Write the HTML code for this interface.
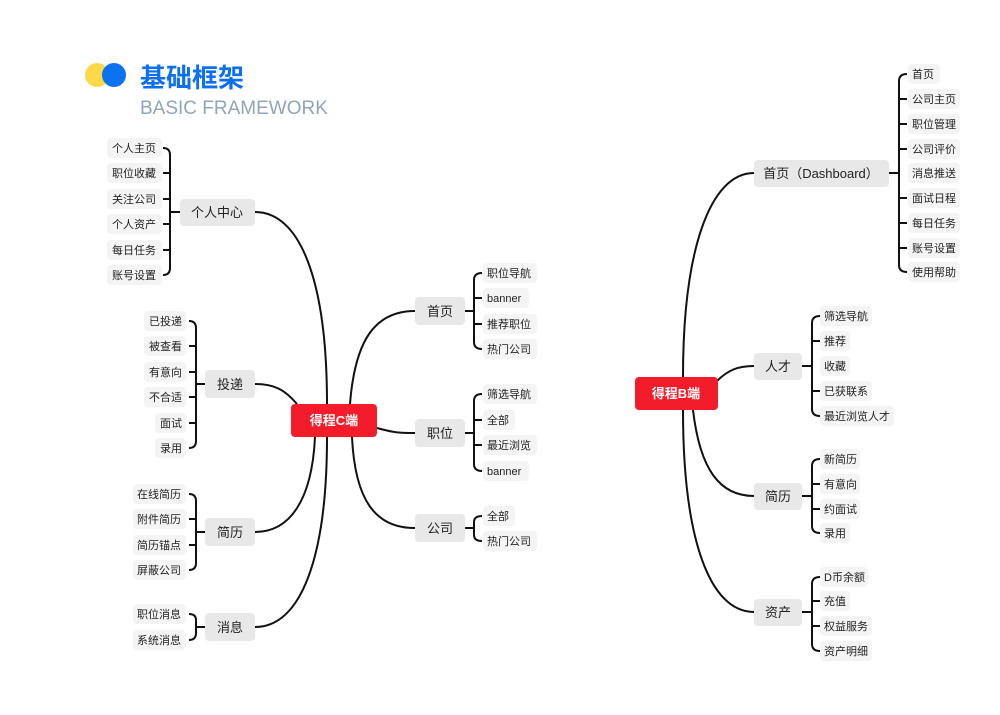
<!DOCTYPE html>
<html><head><meta charset="utf-8"><style>
html,body{margin:0;padding:0;background:#fff;}
svg{display:block;font-family:"Liberation Sans","Noto Sans CJK SC",sans-serif;}
.l rect{fill:#f4f4f4;}
.l text{font-size:11px;fill:#222;}
.b rect{fill:#e8e8e8;}
.b text{font-size:13px;fill:#222;}
path{fill:none;stroke:#111;stroke-width:2;}
</style></head><body>
<svg width="1000" height="715" viewBox="0 0 1000 715">
<circle cx="97" cy="75" r="12" fill="#ffd84a"/>
<circle cx="114" cy="75" r="12" fill="#0b72f0"/>
<text x="140" y="87" font-size="26" font-weight="bold" fill="#0b6ff0" style="font-family:'Noto Sans CJK SC',sans-serif">基础框架</text>
<text x="140" y="114" font-size="19" fill="#8fa6b6">BASIC FRAMEWORK</text>

<!-- C root connectors -->
<path d="M327,404 C327,280 300,212 255,212"/>
<path d="M297,404 C285,390 275,384 255,384"/>
<path d="M315,437 C312,500 290,532 255,532"/>
<path d="M327,437 C327,560 300,627 255,627"/>
<path d="M350,404 C355,340 375,311 415,311"/>
<path d="M377,428 C395,433 400,433 415,433"/>
<path d="M352,437 C355,500 375,528 415,528"/>

<!-- B root connectors -->
<path d="M683,377 C683,250 710,173 754,173"/>
<path d="M717,381 C728,370 738,366 754,366"/>
<path d="M693,410 C700,470 720,496 754,496"/>
<path d="M683,410 C683,540 710,612 754,612"/>

<!-- brackets -->
<path d="M180,212 H170 M163,148 Q170,148 170,155 V268 Q170,275 163,275 M163,173 H170 M163,199 H170 M163,224 H170 M163,250 H170"/>
<path d="M205,384 H196 M189,321 Q196,321 196,328 V441 Q196,448 189,448 M189,346 H196 M189,372 H196 M189,397 H196 M189,423 H196"/>
<path d="M205,532 H196 M189,494 Q196,494 196,501 V563 Q196,570 189,570 M189,519 H196 M189,545 H196"/>
<path d="M205,627 H196 M189,614 Q196,614 196,620 V633 Q196,640 189,640"/>
<path d="M465,311 H474 M482,273 Q474,273 474,280 V342 Q474,349 482,349 M482,298 H474 M482,324 H474"/>
<path d="M465,433 H474 M482,394 Q474,394 474,401 V464 Q474,471 482,471 M482,420 H474 M482,445 H474"/>
<path d="M465,528 H474 M482,516 Q474,516 474,522 V535 Q474,541 482,541"/>
<path d="M889,173 H899 M907,74 Q899,74 899,81 V265 Q899,272 907,272 M907,99 H899 M907,124 H899 M907,149 H899 M907,198 H899 M907,223 H899 M907,248 H899"/>
<path d="M802,366 H812 M820,316 Q812,316 812,323 V409 Q812,416 820,416 M820,341 H812 M820,391 H812"/>
<path d="M802,496 H812 M820,459 Q812,459 812,466 V526 Q812,533 820,533 M820,484 H812 M820,509 H812"/>
<path d="M802,612 H812 M820,577 Q812,577 812,584 V644 Q812,651 820,651 M820,601 H812 M820,626 H812"/>

<!-- roots -->
<rect x="291" y="404" width="86" height="33" rx="4" fill="#f31c2a"/>
<text x="334" y="425" font-size="13" font-weight="bold" fill="#fff" text-anchor="middle">得程C端</text>
<rect x="635" y="377" width="83" height="33" rx="4" fill="#f31c2a"/>
<text x="676" y="398" font-size="13" font-weight="bold" fill="#fff" text-anchor="middle">得程B端</text>

<!-- branches -->
<g class="b">
<rect x="180" y="199" width="75" height="27" rx="4"/><text x="217" y="217" text-anchor="middle">个人中心</text>
<rect x="205" y="370" width="50" height="28" rx="4"/><text x="230" y="389" text-anchor="middle">投递</text>
<rect x="205" y="518" width="50" height="28" rx="4"/><text x="230" y="537" text-anchor="middle">简历</text>
<rect x="205" y="613" width="50" height="28" rx="4"/><text x="230" y="632" text-anchor="middle">消息</text>
<rect x="415" y="297" width="50" height="28" rx="4"/><text x="440" y="316" text-anchor="middle">首页</text>
<rect x="415" y="419" width="50" height="28" rx="4"/><text x="440" y="438" text-anchor="middle">职位</text>
<rect x="415" y="514" width="50" height="28" rx="4"/><text x="440" y="533" text-anchor="middle">公司</text>
<rect x="754" y="160" width="135" height="27" rx="4"/><text x="821" y="178" text-anchor="middle">首页（Dashboard）</text>
<rect x="754" y="353" width="48" height="27" rx="4"/><text x="778" y="371" text-anchor="middle">人才</text>
<rect x="754" y="483" width="48" height="27" rx="4"/><text x="778" y="501" text-anchor="middle">简历</text>
<rect x="754" y="599" width="48" height="27" rx="4"/><text x="778" y="617" text-anchor="middle">资产</text>
</g>

<!-- leaves -->
<g class="l">
<rect x="107" y="138" width="55" height="20" rx="4"/><text x="112" y="152">个人主页</text>
<rect x="107" y="163" width="55" height="20" rx="4"/><text x="112" y="177">职位收藏</text>
<rect x="107" y="189" width="55" height="20" rx="4"/><text x="112" y="203">关注公司</text>
<rect x="107" y="214" width="55" height="20" rx="4"/><text x="112" y="228">个人资产</text>
<rect x="107" y="240" width="55" height="20" rx="4"/><text x="112" y="254">每日任务</text>
<rect x="107" y="265" width="55" height="20" rx="4"/><text x="112" y="279">账号设置</text>

<rect x="144" y="311" width="42" height="20" rx="4"/><text x="149" y="325">已投递</text>
<rect x="144" y="336" width="42" height="20" rx="4"/><text x="149" y="350">被查看</text>
<rect x="144" y="362" width="42" height="20" rx="4"/><text x="149" y="376">有意向</text>
<rect x="144" y="387" width="42" height="20" rx="4"/><text x="149" y="401">不合适</text>
<rect x="155" y="413" width="31" height="20" rx="4"/><text x="160" y="427">面试</text>
<rect x="155" y="438" width="31" height="20" rx="4"/><text x="160" y="452">录用</text>

<rect x="133" y="484" width="53" height="20" rx="4"/><text x="137" y="498">在线简历</text>
<rect x="133" y="509" width="53" height="20" rx="4"/><text x="137" y="523">附件简历</text>
<rect x="133" y="535" width="53" height="20" rx="4"/><text x="137" y="549">简历锚点</text>
<rect x="133" y="560" width="53" height="20" rx="4"/><text x="137" y="574">屏蔽公司</text>
<rect x="133" y="604" width="53" height="20" rx="4"/><text x="137" y="618">职位消息</text>
<rect x="133" y="630" width="53" height="20" rx="4"/><text x="137" y="644">系统消息</text>

<rect x="483" y="263" width="54" height="20" rx="4"/><text x="487" y="277">职位导航</text>
<rect x="483" y="288" width="46" height="20" rx="4"/><text x="487" y="302">banner</text>
<rect x="483" y="314" width="54" height="20" rx="4"/><text x="487" y="328">推荐职位</text>
<rect x="483" y="339" width="54" height="20" rx="4"/><text x="487" y="353">热门公司</text>
<rect x="483" y="384" width="54" height="20" rx="4"/><text x="487" y="398">筛选导航</text>
<rect x="483" y="410" width="32" height="20" rx="4"/><text x="487" y="424">全部</text>
<rect x="483" y="435" width="54" height="20" rx="4"/><text x="487" y="449">最近浏览</text>
<rect x="483" y="461" width="46" height="20" rx="4"/><text x="487" y="475">banner</text>
<rect x="483" y="506" width="32" height="20" rx="4"/><text x="487" y="520">全部</text>
<rect x="483" y="531" width="54" height="20" rx="4"/><text x="487" y="545">热门公司</text>

<rect x="908" y="64" width="32" height="20" rx="4"/><text x="912" y="78">首页</text>
<rect x="908" y="89" width="52" height="20" rx="4"/><text x="912" y="103">公司主页</text>
<rect x="908" y="114" width="52" height="20" rx="4"/><text x="912" y="128">职位管理</text>
<rect x="908" y="139" width="52" height="20" rx="4"/><text x="912" y="153">公司评价</text>
<rect x="908" y="163" width="52" height="20" rx="4"/><text x="912" y="177">消息推送</text>
<rect x="908" y="188" width="52" height="20" rx="4"/><text x="912" y="202">面试日程</text>
<rect x="908" y="213" width="52" height="20" rx="4"/><text x="912" y="227">每日任务</text>
<rect x="908" y="238" width="52" height="20" rx="4"/><text x="912" y="252">账号设置</text>
<rect x="908" y="262" width="52" height="20" rx="4"/><text x="912" y="276">使用帮助</text>

<rect x="820" y="306" width="52" height="20" rx="4"/><text x="824" y="320">筛选导航</text>
<rect x="820" y="331" width="30" height="20" rx="4"/><text x="824" y="345">推荐</text>
<rect x="820" y="356" width="30" height="20" rx="4"/><text x="824" y="370">收藏</text>
<rect x="820" y="381" width="52" height="20" rx="4"/><text x="824" y="395">已获联系</text>
<rect x="820" y="406" width="74" height="20" rx="4"/><text x="824" y="420">最近浏览人才</text>

<rect x="820" y="449" width="40" height="20" rx="4"/><text x="824" y="463">新简历</text>
<rect x="820" y="474" width="40" height="20" rx="4"/><text x="824" y="488">有意向</text>
<rect x="820" y="499" width="40" height="20" rx="4"/><text x="824" y="513">约面试</text>
<rect x="820" y="523" width="30" height="20" rx="4"/><text x="824" y="537">录用</text>

<rect x="820" y="567" width="48" height="20" rx="4"/><text x="824" y="581">D币余额</text>
<rect x="820" y="591" width="30" height="20" rx="4"/><text x="824" y="605">充值</text>
<rect x="820" y="616" width="52" height="20" rx="4"/><text x="824" y="630">权益服务</text>
<rect x="820" y="641" width="52" height="20" rx="4"/><text x="824" y="655">资产明细</text>
</g>
</svg>
</body></html>
